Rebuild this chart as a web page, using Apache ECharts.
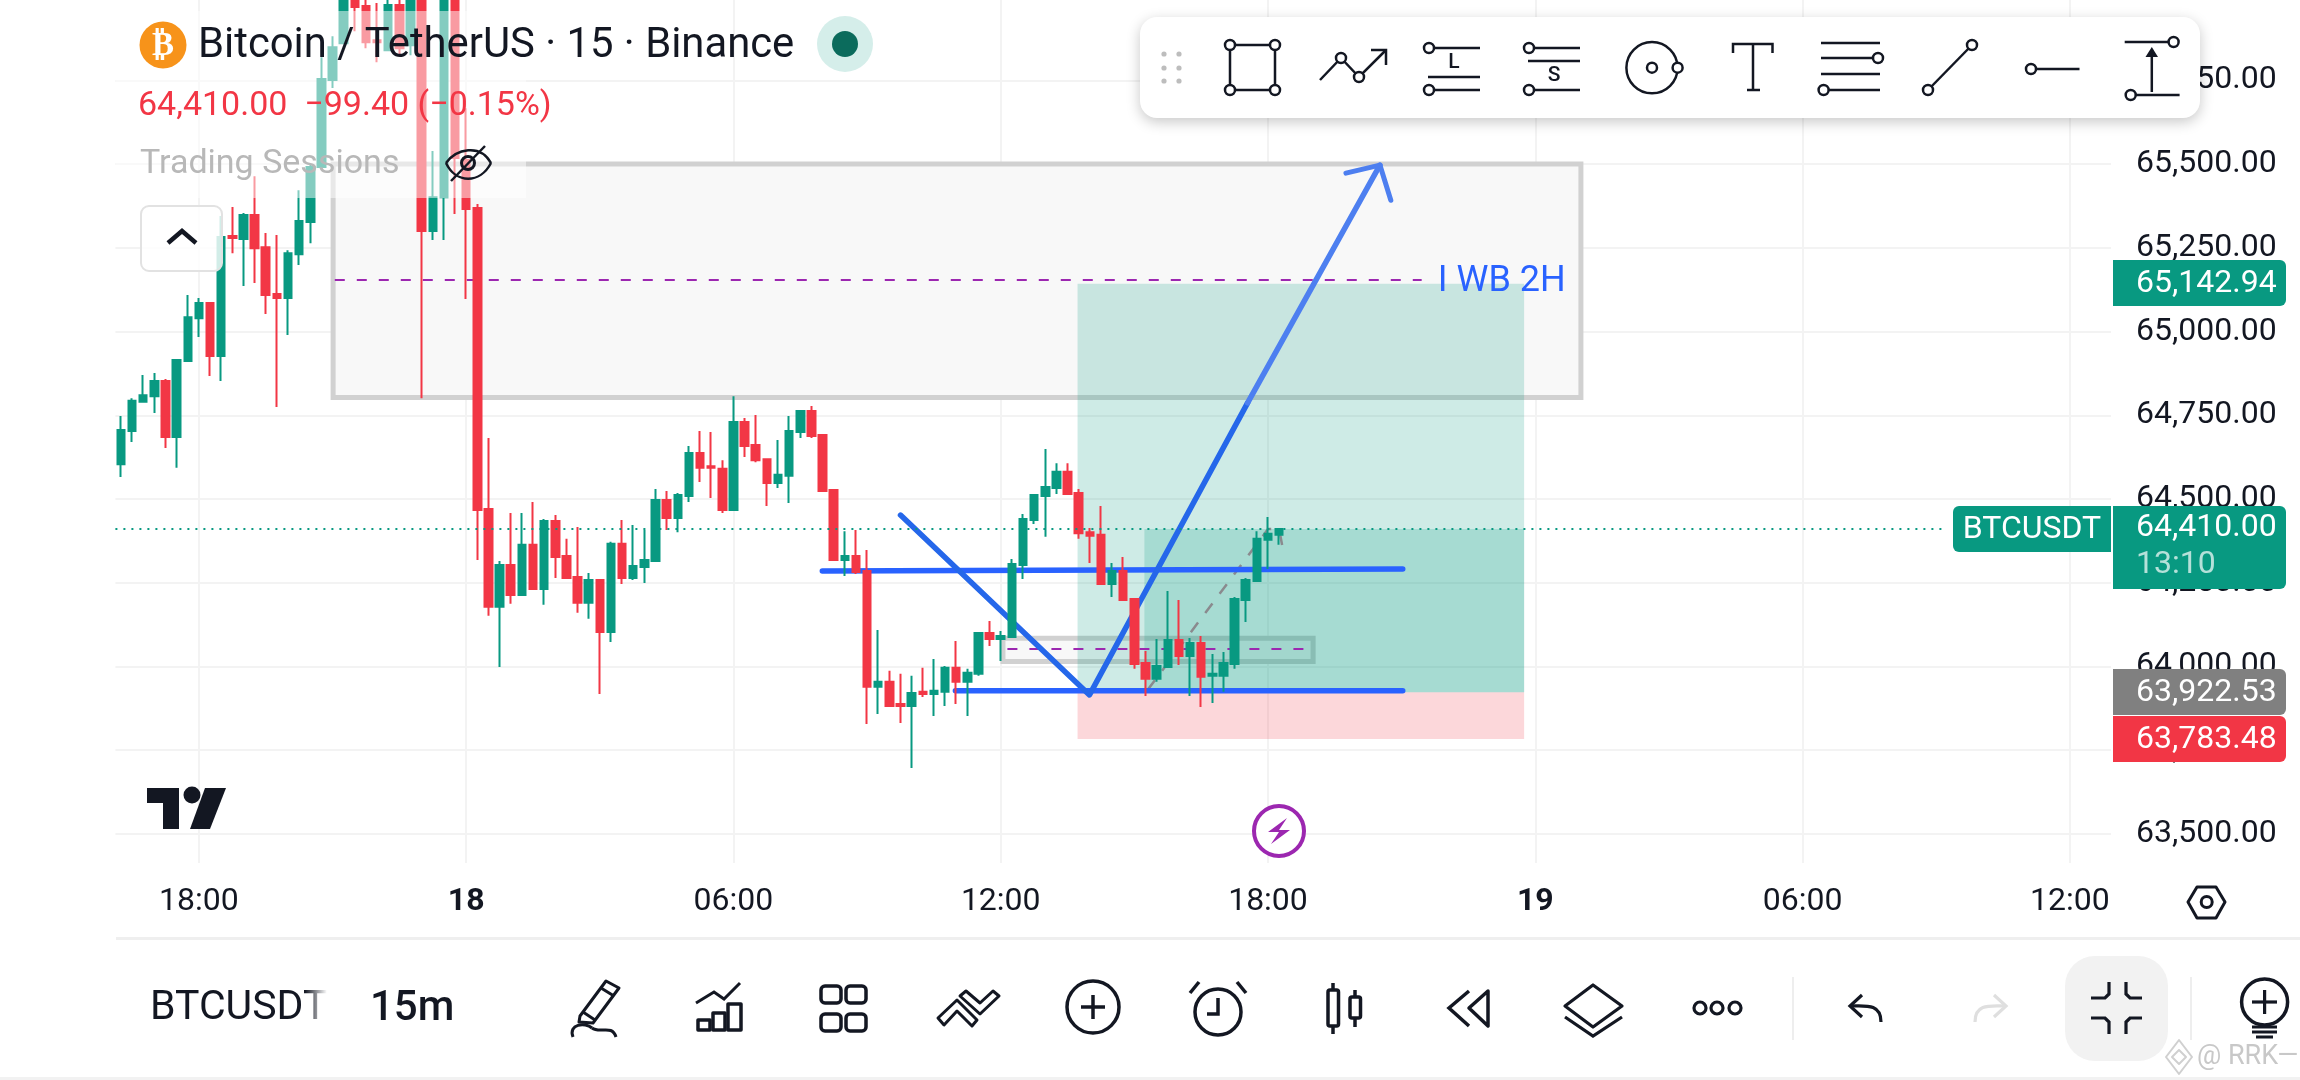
<!DOCTYPE html>
<html><head><meta charset="utf-8">
<style>html,body{margin:0;padding:0;background:#fff}#c{width:2300px;height:1080px}</style>
<script src="https://cdn.jsdelivr.net/npm/echarts@6/dist/echarts.min.js"></script></head>
<body><div id="c"></div><script>
// Candles [open, close, low, high], 15m bars
const candles=[
[64604,64706,64566,64748],[64703,64793,64670,64801],[64790,64810,64790,64870],[64807,64852,64757,64876],
[64852,64685,64652,64858],[64685,64915,64593,64918],[64912,65043,64912,65109],[65040,65085,64984,65100],
[65085,64927,64867,65085],[64927,65282,64852,65345],[65285,65279,65234,65372],[65276,65348,65136,65354],
[65348,65249,65145,65464],[65252,65109,65052,65294],[65112,65100,64775,65288],[65100,65234,64990,65243],
[65231,65330,65199,65422],[65327,65491,65264,65497],[65491,65754,65491,65819],[65751,65849,65727,65882],
[65861,66040,65861,66080],[66040,65969,65897,66080],[65972,65864,65846,66010],[65870,65864,65804,65981],
[65840,65975,65840,66010],[65975,65846,65825,66010],[65855,66040,65825,66080],[66040,65300,64801,66080],
[65300,65401,65273,65539],[65401,66040,65273,66080],[66040,65518,65351,66080],[65512,65366,65097,65667],
[65369,64467,64318,65381],[64470,64178,64151,64682],[64178,64303,63998,64315],[64303,64213,64187,64458],
[64213,64363,64210,64458],[64363,64231,64231,64491],[64231,64434,64184,64440],[64434,64327,64264,64452],
[64330,64264,64264,64381],[64267,64190,64160,64416],[64190,64258,64142,64279],[64258,64103,63918,64258],
[64103,64366,64073,64372],[64366,64264,64246,64437],[64264,64300,64258,64422],[64297,64318,64249,64407],
[64315,64497,64315,64530],[64497,64443,64407,64524],[64443,64512,64401,64518],[64509,64637,64491,64658],
[64637,64593,64551,64703],[64598,64593,64503,64700],[64590,64467,64458,64616],[64467,64730,64467,64807],
[64730,64658,64625,64742],[64661,64616,64610,64751],[64619,64548,64479,64619],[64548,64572,64533,64676],
[64569,64703,64488,64748],[64700,64763,64682,64766],[64763,64688,64682,64778],[64691,64524,64524,64691],
[64527,64318,64318,64530],[64318,64330,64270,64404],[64330,64282,64276,64407],[64285,63939,63828,64348],
[63939,63954,63858,64109],[63954,63882,63882,63987],[63888,63882,63831,63978],[63882,63921,63697,63972],
[63924,63918,63909,63996],[63918,63927,63852,64022],[63924,63996,63882,64001],[63996,63954,63888,64076],
[63954,63981,63852,63993],[63978,64100,63972,64100],[64100,64082,64061,64136],[64082,64091,64016,64106],
[64088,64306,64085,64321],[64303,64440,64261,64455],[64437,64512,64425,64512],[64509,64536,64387,64649],
[64533,64581,64515,64607],[64581,64515,64515,64607],[64518,64398,64381,64530],[64401,64390,64309,64413],
[64393,64246,64246,64479],[64246,64285,64207,64309],[64285,64198,64198,64327],[64201,64007,63993,64201],
[64010,63963,63912,64046],[63963,64001,63954,64082],[63998,64079,63998,64225],[64079,64031,64004,64198],
[64031,64070,63912,64085],[64070,63969,63879,64091],[63972,63978,63891,64037],[63972,64010,63924,64043],
[64007,64201,63993,64207],[64198,64258,64133,64264],[64255,64381,64255,64404],[64378,64396,64291,64446],
[64393,64410,64363,64410]];
const priceTicks=[63500,63750,64000,64250,64500,64750,65000,65250,65500,65750];
const timeTicks=[7,31,55,79,103,127,151,175];
const timeLabels=['18:00','{b|18}','06:00','12:00','18:00','{b|19}','06:00','12:00'];
const lastPrice=64410;
// Drawings, in [bar index, price]
const greyBoxLarge=[[19.05,65500],[131.1,64803]];
const greyBoxSmall=[[79.2,64084],[107.05,64015]];
const midLineLarge=[[19.2,65154],[116.8,65154]];
const midLineSmall=[[79.6,64052],[107,64052]];
const targetBox=[[85.9,65142.94],[126,63922.53]];
const stopBox=[[85.9,63922.53],[126,63783.48]];
const progressBox=[[91.9,64410],[126,63922.53]];
const upperLevel=[[62.98,64285],[115.1,64291]];
const lowerLevel=[[74.93,63927],[115.1,63927]];
const wedgeLeg=[[70,64452],[86.97,63915],[101.17,64787]];
const arrowLeg=[[101.17,64787],[113.05,65497]];
const arrowHead=[[110,65473],[113.05,65497],[114.03,65392]];
const projection=[[92.2,63930],[103,64410],[104,64410],[104.3,64357]];
const lastLine=[[-0.5,64410],[164,64410]];
const noteLabel=[[118.2,65154]];

const F='Roboto',INK='#131722',UP='#089981',DOWN='#f23645',BLUE='#2962ff';
const Z=100;
const T=(text,x,y,size,fill,o={})=>({type:'text',z:o.z||Z+2,style:{text,x,y,fill,font:`${o.w||400} ${size}px ${o.f||F}`,textAlign:o.a||'left',textVerticalAlign:'middle',opacity:o.op==null?1:o.op}});
const R=(x,y,w,h,fill,o={})=>({type:'rect',z:o.z||Z,shape:{x,y,width:w,height:h,r:o.r||0},style:{fill,stroke:o.s||null,lineWidth:o.lw||0,shadowBlur:o.sb||0,shadowColor:o.sc||'transparent',shadowOffsetY:o.so||0}});
const PL=(points,o={})=>({type:'polyline',z:o.z||Z+2,shape:{points},style:{fill:null,stroke:o.s||INK,lineWidth:o.lw||2.5,lineCap:o.cap||'butt',lineJoin:'miter'}});
const PG=(points,o={})=>({type:'polygon',z:o.z||Z+2,shape:{points},style:{fill:o.f||null,stroke:o.s||null,lineWidth:o.lw||0,lineJoin:'round'}});
const C=(cx,cy,r,o={})=>({type:'circle',z:o.z||Z+2,shape:{cx,cy,r},style:{fill:o.f===undefined?'#fff':o.f,stroke:o.s===undefined?INK:o.s,lineWidth:o.lw==null?2.5:o.lw}});
const BZ=(x1,y1,cpx1,cpy1,cpx2,cpy2,x2,y2,o={})=>({type:'bezierCurve',z:Z+2,shape:{x1,y1,cpx1,cpy1,cpx2,cpy2,x2,y2},style:{fill:null,stroke:o.s||INK,lineWidth:o.lw||2.5}});
const g=[];
// faded header band
g.push(R(116,11,410,187,'rgba(255,255,255,0.5)',{z:Z}));
// header
g.push(C(163,45,23.5,{f:'#f7931a',s:null,lw:0}));
g.push(T('₿',163,46,33,'#fff',{w:700,a:'center',f:'DejaVu Sans'}));
g.push(T('Bitcoin / TetherUS · 15 · Binance',198,47,41.8,INK));
g.push(C(845,44,28,{f:'#d5eeea',s:null,lw:0}));
g.push(C(845,44,13,{f:'#0b6b5c',s:null,lw:0}));
g.push(T('64,410.00  −99.40 (−0.15%)',138,106,34,DOWN));
g.push(T('Trading Sessions',140,164,34,'#b8b8b8'));
g.push(BZ(446,163,456,149,480,143,491,163));g.push(BZ(446,163,456,184,480,184,491,163));
g.push(C(468,163,6.5,{f:null,lw:3}));g.push(PL([[451,181],[485,146]],{lw:2.5}));
// collapse button
g.push(R(141,206,81,65,'rgba(255,255,255,0.82)',{r:8,s:'#e2e2e2',lw:2}));
g.push(PL([[168,243],[182,231],[196,243]],{lw:4.5}));
// logo
g.push(PG([[147,788],[179,788],[179,829],[163,829],[163,803],[147,803]],{f:INK}));
g.push(C(192,795,8.5,{f:INK,s:null,lw:0}));
g.push(PG([[205,788],[226,788],[210,829],[190,829]],{f:INK}));
// bolt
g.push(C(1279,831,25,{f:'#fff',s:'#9c27b0',lw:4}));
g.push(PG([[1287,818],[1268,832],[1279,832],[1271,844],[1290,830],[1279,830]],{f:'#9c27b0'}));
// top tool bar
g.push(R(1140,17,1060,101,'#fff',{r:17,z:Z+1,sb:14,sc:'rgba(0,0,0,0.22)',so:4}));
[1164,1179].forEach(x=>[54,68,81].forEach(y=>g.push(C(x,y,2.6,{f:'#bdbdbd',s:null,lw:0}))));
g.push(PG([[1230,45],[1275,45],[1275,90],[1230,90]],{s:INK,lw:2.5}));
[[1230,45],[1275,45],[1230,90],[1275,90]].forEach(p=>g.push(C(p[0],p[1],5)));
g.push(PL([[1320,80],[1341,58],[1359,77],[1386,50]]));g.push(PL([[1371,50],[1386,50],[1386,65]]));
g.push(C(1341,58,5));g.push(C(1359,77,5));
g.push(PL([[1429,48],[1480,48]]));g.push(PL([[1428,77],[1480,77]]));g.push(PL([[1429,90],[1480,90]]));
g.push(C(1429,48,5));g.push(C(1429,90,5));g.push(T('L',1454,63,21,INK,{a:'center',w:500}));
g.push(PL([[1529,48],[1580,48]]));g.push(PL([[1528,61],[1580,61]]));g.push(PL([[1529,90],[1580,90]]));
g.push(C(1529,48,5));g.push(C(1529,90,5));g.push(T('S',1554,76,21,INK,{a:'center',w:500}));
g.push(C(1652,67.7,25.6,{f:null}));g.push(C(1652,67.7,5));g.push(C(1677.6,67.7,5));
g.push(PL([[1733,53],[1733,44],[1772.5,44],[1772.5,53]]));g.push(PL([[1753,44],[1753,90]]));g.push(PL([[1747,90],[1760,90]]));
[43,58,74,90].forEach(y=>g.push(PL([[1821,y],[1880,y]])));g.push(C(1878,58,5));g.push(C(1823.6,90,5));
g.push(PL([[1928,90],[1972,45]]));g.push(C(1928,90,5));g.push(C(1972,45,5));
g.push(PL([[2031,69],[2079.5,69]]));g.push(C(2031,69,5));
g.push(PL([[2124.7,42],[2173.6,42]]));g.push(PL([[2130.7,95],[2179.6,95]]));g.push(C(2173.6,42,5));g.push(C(2130.7,95,5));
g.push(PL([[2151.8,92],[2151.8,54]]));g.push(PG([[2151.8,47],[2145.5,57],[2158,57]],{f:INK}));
// price tags
g.push(R(1953,506,158,46,UP,{r:[6,0,0,6]}));g.push(T('BTCUSDT',2032,530,32,'#fff',{a:'center'}));
g.push(R(2113,506,173,83,UP,{r:[0,6,6,0]}));
g.push(T('64,410.00',2136,528,32,'#fff'));g.push(T('13:10',2136,565,32,'rgba(255,255,255,0.7)'));
g.push(R(2113,260,173,46,UP,{r:[0,6,6,0]}));g.push(T('65,142.94',2136,284,32,'#fff'));
g.push(R(2113,669,173,46,'#808080',{r:[0,6,6,0]}));g.push(T('63,922.53',2136,693,32,'#fff'));
g.push(R(2113,716,173,46,DOWN,{r:[0,6,6,0]}));g.push(T('63,783.48',2136,740,32,'#fff'));
// axis gear
g.push(PG([[2188,902],[2197,887],[2216,887],[2225,902],[2216,918],[2197,918]],{s:INK,lw:3}));g.push(C(2206.7,902,5.5,{f:null,lw:3}));
// bottom bar
g.push(R(116,937,2184,3,'#efefef',{z:Z}));g.push(R(0,1077,2300,3,'#f2f2f2',{z:Z}));
g.push(T('BTCUSDT',150,1009,41,INK));
g.push({type:'rect',z:Z+3,shape:{x:305,y:985,width:22,height:46},style:{fill:new echarts.graphic.LinearGradient(0,0,1,0,[{offset:0,color:'rgba(255,255,255,0)'},{offset:1,color:'#fff'}])}});
g.push(R(327,985,33,46,'#fff',{z:Z+3}));
g.push(T('15m',370,1009,42,INK,{w:500}));
// pencil
g.push(PG([[606,981],[619,988],[593,1023],[579,1022],[580,1016]],{s:INK,lw:3}));g.push(PL([[583,1012],[595,1020]],{lw:3}));g.push(PL([[601,988],[614,996]],{lw:3}));
g.push(BZ(573,1037,568,1024,585,1022,592,1028,{lw:3}));g.push(BZ(592,1028,600,1034,612,1024,616,1037,{lw:3}));
// indicators
g.push(PL([[696,1003],[714,992],[724,999],[740,983]],{lw:3}));
g.push(PG([[698,1020],[710,1020],[710,1030],[698,1030]],{s:INK,lw:3.5}));g.push(PG([[713,1013],[725,1013],[725,1030],[713,1030]],{s:INK,lw:3.5}));g.push(PG([[728,1004],[741,1004],[741,1030],[728,1030]],{s:INK,lw:3.5}));
// grid
[[821,986],[846,986],[821,1014],[846,1014]].forEach(p=>g.push(R(p[0],p[1],20,17,null,{z:Z+2,r:4,s:INK,lw:3.5})));
// double chevron
g.push(PG([[938,1018],[957,1000],[977,1020],[972,1026],[957,1011],[944,1025]],{s:INK,lw:3}));
g.push(PG([[966,991],[980,1003],[993,991],[999,996],[980,1014],[960,996]],{s:INK,lw:3}));
// plus
g.push(C(1093,1007,26,{f:null,lw:3.5}));g.push(PL([[1081,1007],[1105,1007]],{lw:3.5}));g.push(PL([[1093,995],[1093,1019]],{lw:3.5}));
// alarm
g.push(C(1218,1012,23,{f:null,lw:3.5}));g.push(PL([[1218,998],[1218,1014],[1207,1014]],{lw:3.5}));g.push(PL([[1190,993],[1199,982]],{lw:3.5}));g.push(PL([[1237,982],[1246,993]],{lw:3.5}));
// candle icon
g.push(PL([[1333,983],[1333,990]],{lw:3.5}));g.push(PL([[1333,1026],[1333,1034]],{lw:3.5}));g.push(R(1328,990,10.5,36,null,{z:Z+2,s:INK,lw:3.5,r:2}));
g.push(PL([[1355,990],[1355,997]],{lw:3.5}));g.push(PL([[1355,1018],[1355,1027]],{lw:3.5}));g.push(R(1350,997,10.5,21,null,{z:Z+2,s:INK,lw:3.5,r:2}));
// rewind
g.push(PL([[1469,991],[1449,1008],[1469,1026]],{lw:3.5}));g.push(PG([[1488,991],[1469,1008],[1488,1026]],{s:INK,lw:3.5}));
// layers
g.push(PG([[1593,985],[1622,1006],[1593,1027],[1565,1006]],{s:INK,lw:3.2}));g.push(PL([[1565,1017],[1593,1036],[1622,1017]],{lw:3.2}));
// dots
[1700,1717,1735].forEach(x=>g.push(C(x,1008,6,{f:null,lw:3.2})));
g.push(R(1792,977,2,63,'#eeeeee',{z:Z+2}));g.push(R(2190,977,2,63,'#eeeeee',{z:Z+2}));
// undo / redo
g.push(PL([[1862,995],[1850,1006],[1862,1017]],{lw:3.2}));g.push(BZ(1850,1006,1865,1006,1881,1003,1881,1022,{lw:3.2}));
g.push(PL([[1994,995],[2006,1006],[1994,1017]],{lw:3.2,s:'#dfdfdf'}));g.push(BZ(2006,1006,1991,1006,1975,1003,1975,1022,{lw:3.2,s:'#dfdfdf'}));
// collapse
g.push(R(2065,956,103,105,'#f2f2f2',{z:Z+1,r:30}));
g.push(PL([[2109,982],[2109,994],[2105,998],[2091,998]],{lw:3.2}));g.push(PL([[2126,982],[2126,994],[2130,998],[2142,998]],{lw:3.2}));
g.push(PL([[2091,1018],[2105,1018],[2109,1022],[2109,1034]],{lw:3.2}));g.push(PL([[2142,1018],[2130,1018],[2126,1022],[2126,1034]],{lw:3.2}));
// bulb
g.push(C(2264.6,1002,23,{f:null,lw:3.5}));g.push(PL([[2252,1002],[2277,1002]],{lw:3.2}));g.push(PL([[2264.6,990],[2264.6,1014]],{lw:3.2}));
[1027,1032].forEach(y=>g.push(PL([[2252,y],[2277,y]],{lw:3})));g.push(PL([[2256,1037],[2273,1037]],{lw:3}));
// watermark
g.push(PG([[2179,1040],[2192,1057],[2179,1074],[2166,1057]],{s:'#d0d0d0',lw:2,z:Z+4}));
g.push(PG([[2179,1050],[2186,1057],[2179,1064],[2172,1057]],{s:'#d0d0d0',lw:2,z:Z+4}));
g.push(T('@ RRK—',2197,1057,27,'#c8c8c8',{z:Z+4}));

const drawLine=(name,data,color,width,z,extra={})=>({name,type:'line',data,z,symbol:'none',silent:true,animation:false,showSymbol:false,
  lineStyle:Object.assign({color,width,cap:'round',join:'round'},extra)});
const box=(rect,style,z)=>({type:'line',data:[],z,silent:true,markArea:{silent:true,z,itemStyle:style,label:{show:false},
  data:[[{coord:rect[0]},{coord:rect[1]}]]}});

const chart=echarts.init(document.getElementById('c'),null,{renderer:'canvas'});
chart.setOption({
  animation:false,backgroundColor:'#ffffff',
  grid:{left:115.4,right:189,top:0,bottom:217,containLabel:false},
  xAxis:{type:'value',min:-0.5,max:178.7,axisLine:{show:false},
    axisTick:{show:false,customValues:timeTicks},
    splitLine:{show:true,lineStyle:{color:'#f3f3f3',width:2}},
    axisLabel:{customValues:timeTicks,margin:23,fontFamily:F,fontSize:32,color:INK,
      formatter:v=>timeLabels[timeTicks.indexOf(v)]||'',
      rich:{b:{fontFamily:F,fontSize:32,fontWeight:'bold',color:INK}}}},
  yAxis:{type:'value',position:'right',min:63413,max:65990,axisLine:{show:false},scale:true,
    axisTick:{show:false,customValues:priceTicks},
    splitLine:{show:true,lineStyle:{color:'#f3f3f3',width:2}},
    axisLabel:{customValues:priceTicks,margin:25,fontFamily:F,fontSize:32,color:INK,
      formatter:v=>v.toLocaleString('en-US',{minimumFractionDigits:2,maximumFractionDigits:2})}},
  series:[
    box(greyBoxLarge,{color:'#f8f8f8',borderColor:'#d1d1d1',borderWidth:5},1),
    box(greyBoxSmall,{color:'#f8f8f8',borderColor:'#d1d1d1',borderWidth:5},1),
    box(targetBox,{color:'rgba(8,153,129,0.2)',borderWidth:0},2),
    box(stopBox,{color:'rgba(242,54,69,0.2)',borderWidth:0},2),
    box(progressBox,{color:'rgba(8,153,129,0.2)',borderWidth:0},3),
    drawLine('mid1',midLineLarge,'#9c27b0',2,4,{type:[10,12],cap:'butt'}),
    drawLine('mid2',midLineSmall,'#9c27b0',2,4,{type:[10,12],cap:'butt'}),
    drawLine('proj',projection,'#8a8a8e',2.5,4,{type:[12,12],cap:'butt'}),
    drawLine('upper',upperLevel,BLUE,5.5,5),
    drawLine('lower',lowerLevel,BLUE,5.5,5),
    drawLine('wedge',wedgeLeg,'#2567ea',5.5,5),
    drawLine('arrow',arrowLeg,'#4d7ff0',5.5,5),
    drawLine('head',arrowHead,'#4d7ff0',5,5),
    {type:'candlestick',z:10,silent:true,animation:false,barWidth:8,
      data:candles.map((c,i)=>[i,c[0],c[1],c[2],c[3]]),
      encode:{x:0,y:[1,2,3,4]},
      itemStyle:{color:UP,color0:DOWN,borderColor:UP,borderColor0:DOWN,borderWidth:2}},
    drawLine('last',lastLine,UP,2,12,{type:[2,6],cap:'butt'}),
    {type:'scatter',z:12,silent:true,symbolSize:1,data:noteLabel,itemStyle:{color:'transparent',opacity:1},
      label:{show:true,position:'right',distance:0,offset:[0,2],opacity:1,formatter:'I WB 2H',fontFamily:F,fontSize:36,color:BLUE}}
  ],
  graphic:{elements:g}
});
</script></body></html>
